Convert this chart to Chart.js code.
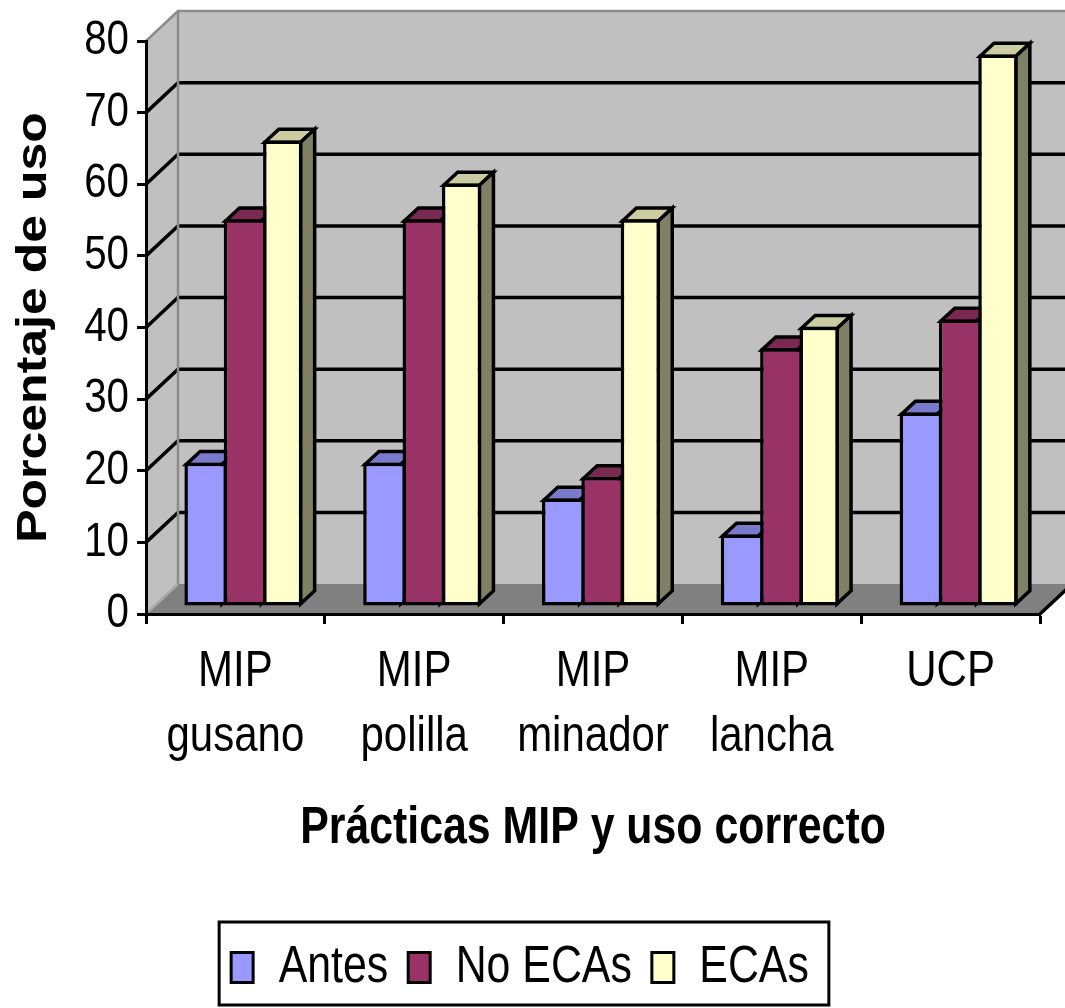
<!DOCTYPE html>
<html>
<head>
<meta charset="utf-8">
<script src="https://cdn.jsdelivr.net/npm/chart.js@4.4.1/dist/chart.umd.min.js"></script>
<style>
  html, body { margin: 0; padding: 0; background: #ffffff; overflow: hidden; }
  #chart { display: block; }
</style>
</head>
<body>
<canvas id="chart" width="1065" height="1008" style="width:1065px;height:1008px"></canvas>
<script>
// ---- data ----
const categories = [['MIP', 'gusano'], ['MIP', 'polilla'], ['MIP', 'minador'], ['MIP', 'lancha'], ['UCP']];
const seriesNames = ['Antes', 'No ECAs', 'ECAs'];
const antes  = [20, 20, 15, 10, 27];
const noEcas = [54, 54, 18, 36, 40];
const ecas   = [65, 59, 54, 39, 77];
const yTickValues = [0, 10, 20, 30, 40, 50, 60, 70, 80];
const xTitle = 'Prácticas MIP y uso correcto';
const yTitle = 'Porcentaje de uso';

// ---- look ----
const frontColors = ['#9999ff', '#993366', '#ffffcc'];
const topColors   = ['#7a7acc', '#7a2952', '#cccca3'];
const sideColors  = ['#5c5c99', '#5c1f3d', '#808066'];
const WALL = { dx: 32, dy: -30 };    // depth of the floor and side wall
const BAR_SHIFT = { dx: 8, dy: -8 };  // bars sit a little behind the front edge
const BAR_DEPTH = { dx: 14, dy: -13 };
const LINE = 3.5;
const FONT = '"Liberation Sans", Arial, sans-serif';
const TEXT_SX = 0.84;                 // condensed lettering

const CANVAS_H = 1008;
const PLOT_BOTTOM = 614;
const PAD_BOTTOM = 5;

// Condensed text: every label is drawn with a horizontal squeeze
// (for rotated text the squeeze follows the screen x direction too).
function condenseText(ctx) {
  const fill = ctx.fillText.bind(ctx);
  const measure = ctx.measureText.bind(ctx);
  ctx.fillText = function (text, x, y, maxWidth) {
    const m = this.getTransform();
    const rotated = Math.abs(m.b) > 1e-6 || Math.abs(m.c) > 1e-6;
    this.save();
    this.translate(x, y);
    if (rotated) this.scale(1, TEXT_SX); else this.scale(TEXT_SX, 1);
    if (maxWidth === undefined || maxWidth === null) fill(text, 0, 0);
    else fill(text, 0, 0, rotated ? maxWidth : maxWidth / TEXT_SX);
    this.restore();
  };
  ctx.measureText = function (text) {
    const m = measure(text);
    return {
      width: m.width * TEXT_SX,
      actualBoundingBoxAscent: m.actualBoundingBoxAscent,
      actualBoundingBoxDescent: m.actualBoundingBoxDescent,
      actualBoundingBoxLeft: m.actualBoundingBoxLeft * TEXT_SX,
      actualBoundingBoxRight: m.actualBoundingBoxRight * TEXT_SX
    };
  };
}

const depthPlugin = {
  id: 'depth3d',
  beforeDraw(chart) {
    const { ctx, chartArea: a, scales: { y } } = chart;
    const wx = WALL.dx, wy = WALL.dy;
    ctx.save();
    // back wall and left wall
    ctx.fillStyle = '#c0c0c0';
    ctx.fillRect(a.left + wx, a.top + wy, a.right - a.left, a.bottom - a.top);
    ctx.beginPath();
    ctx.moveTo(a.left, a.top);
    ctx.lineTo(a.left + wx, a.top + wy);
    ctx.lineTo(a.left + wx, a.bottom + wy);
    ctx.lineTo(a.left, a.bottom);
    ctx.closePath();
    ctx.fill();
    // floor
    ctx.fillStyle = '#808080';
    ctx.beginPath();
    ctx.moveTo(a.left, a.bottom);
    ctx.lineTo(a.left + wx, a.bottom + wy);
    ctx.lineTo(a.right + wx, a.bottom + wy);
    ctx.lineTo(a.right, a.bottom);
    ctx.closePath();
    ctx.fill();
    // gridlines across the side wall and back wall
    ctx.strokeStyle = '#000000';
    ctx.lineWidth = LINE;
    y.ticks.forEach(t => {
      if (t.value <= y.min || t.value >= y.max) return;
      const py = y.getPixelForValue(t.value);
      ctx.beginPath();
      ctx.moveTo(a.left, py);
      ctx.lineTo(a.left + wx, py + wy);
      ctx.lineTo(a.right + wx, py + wy);
      ctx.stroke();
    });
    // wall edges
    ctx.strokeStyle = '#8c8c8c';
    ctx.lineWidth = 2.5;
    ctx.beginPath();
    ctx.moveTo(a.left, a.top);
    ctx.lineTo(a.left + wx, a.top + wy);
    ctx.lineTo(a.right + wx, a.top + wy);
    ctx.moveTo(a.left + wx, a.top + wy);
    ctx.lineTo(a.left + wx, a.bottom + wy);
    ctx.stroke();
    ctx.strokeStyle = '#a8a8a8';
    ctx.beginPath();
    ctx.moveTo(a.left + 2, a.bottom - 2);
    ctx.lineTo(a.left + wx, a.bottom + wy);
    ctx.stroke();
    ctx.strokeStyle = '#000000';
    ctx.lineWidth = LINE;
    ctx.beginPath();
    ctx.moveTo(a.right, a.bottom);
    ctx.lineTo(a.right + wx, a.bottom + wy);
    ctx.stroke();
    ctx.restore();
  },
  beforeDatasetsDraw(chart) {
    const ctx = chart.ctx;
    ctx.save();
    ctx.translate(BAR_SHIFT.dx, BAR_SHIFT.dy);
    const bx = BAR_DEPTH.dx, by = BAR_DEPTH.dy;
    ctx.lineWidth = LINE;
    ctx.lineJoin = 'miter';
    ctx.strokeStyle = '#000000';
    const h = LINE / 2;
    const n = chart.data.labels.length;
    for (let i = 0; i < n; i++) {
      chart.data.datasets.forEach((ds, d) => {
        const bar = chart.getDatasetMeta(d).data[i];
        if (!bar) return;
        const p = bar.getProps(['x', 'y', 'base', 'width'], true);
        const l = p.x - p.width / 2 + h, r = p.x + p.width / 2 - h;
        const t = p.y + h, b = p.base - h;
        // top face
        ctx.fillStyle = topColors[d];
        ctx.beginPath();
        ctx.moveTo(l, t);
        ctx.lineTo(l + bx, t + by);
        ctx.lineTo(r + bx, t + by);
        ctx.lineTo(r, t);
        ctx.closePath();
        ctx.fill();
        ctx.stroke();
        // right side face
        ctx.fillStyle = sideColors[d];
        ctx.beginPath();
        ctx.moveTo(r, t);
        ctx.lineTo(r + bx, t + by);
        ctx.lineTo(r + bx, b + by);
        ctx.lineTo(r, b);
        ctx.closePath();
        ctx.fill();
        ctx.stroke();
      });
    }
  },
  afterDatasetsDraw(chart) {
    chart.ctx.restore();
  },
  afterDraw(chart) {
    const boxes = chart.legend && chart.legend.legendHitBoxes;
    if (!boxes || !boxes.length) return;
    let l = Infinity, r = -Infinity, t = Infinity, b = -Infinity;
    boxes.forEach(hb => {
      l = Math.min(l, hb.left); r = Math.max(r, hb.left + hb.width);
      t = Math.min(t, hb.top); b = Math.max(b, hb.top + hb.height);
    });
    const ctx = chart.ctx;
    ctx.save();
    ctx.strokeStyle = '#000000';
    ctx.lineWidth = 3;
    ctx.strokeRect(l - 12, t - 20, (r - l) + 32, (b - t) + 32);
    ctx.restore();
  }
};

const datasetValues = [antes, noEcas, ecas];
const datasets = datasetValues.map((vals, d) => ({
  label: seriesNames[d],
  data: vals,
  backgroundColor: frontColors[d],
  borderColor: '#000000',
  borderWidth: d < 2 ? { top: LINE, left: LINE, bottom: LINE, right: 0 } : LINE,
  borderSkipped: false,
  clip: false
}));

const canvas = document.getElementById('chart');
condenseText(canvas.getContext('2d'));

new Chart(canvas, {
  type: 'bar',
  data: { labels: categories, datasets },
  plugins: [depthPlugin],
  options: {
    responsive: false,
    animation: false,
    devicePixelRatio: 1,
    layout: { padding: { top: 41, right: 25, left: 0, bottom: PAD_BOTTOM } },
    datasets: { bar: { barPercentage: 1.0, categoryPercentage: 0.66 } },
    plugins: {
      tooltip: { enabled: false },
      legend: {
        position: 'bottom',
        labels: {
          color: '#000000',
          font: { family: FONT, size: 51 },
          boxWidth: 22,
          boxHeight: 30,
          padding: 20,
          generateLabels(chart) {
            return Chart.defaults.plugins.legend.labels.generateLabels(chart)
              .map(item => Object.assign(item, { lineWidth: 3 }));
          }
        }
      }
    },
    scales: {
      x: {
        ticks: {
          color: '#000000',
          font: { family: FONT, size: 50, lineHeight: 1.3 },
          padding: 16,
          maxRotation: 0,
          autoSkip: false
        },
        grid: { drawOnChartArea: false, drawTicks: true, tickLength: 10, tickColor: '#000000', tickWidth: 3, offset: true },
        border: { display: true, color: '#000000', width: 3 },
        title: {
          display: true,
          text: xTitle,
          color: '#000000',
          font: { family: FONT, size: 51, weight: 'bold' },
          padding: { top: 0, bottom: 62 }
        },
        afterFit(s) {
          const lg = s.chart.legend ? s.chart.legend.height : 0;
          s.height = CANVAS_H - PLOT_BOTTOM - lg - PAD_BOTTOM;
        }
      },
      y: {
        min: 0,
        max: 80,
        afterBuildTicks(s) { s.ticks = yTickValues.map(v => ({ value: v })); },
        ticks: { color: '#000000', font: { family: FONT, size: 48 }, padding: 8 },
        grid: { drawOnChartArea: false, drawTicks: true, tickLength: 9, tickColor: '#000000', tickWidth: 3 },
        border: { display: true, color: '#000000', width: 3 },
        title: {
          display: true,
          text: yTitle,
          color: '#000000',
          font: { family: FONT, size: 50, weight: 'bold' },
          padding: { top: 4, bottom: 0 }
        },
        afterFit(s) { s.width = 146; }
      }
    }
  }
});
</script>
</body>
</html>
